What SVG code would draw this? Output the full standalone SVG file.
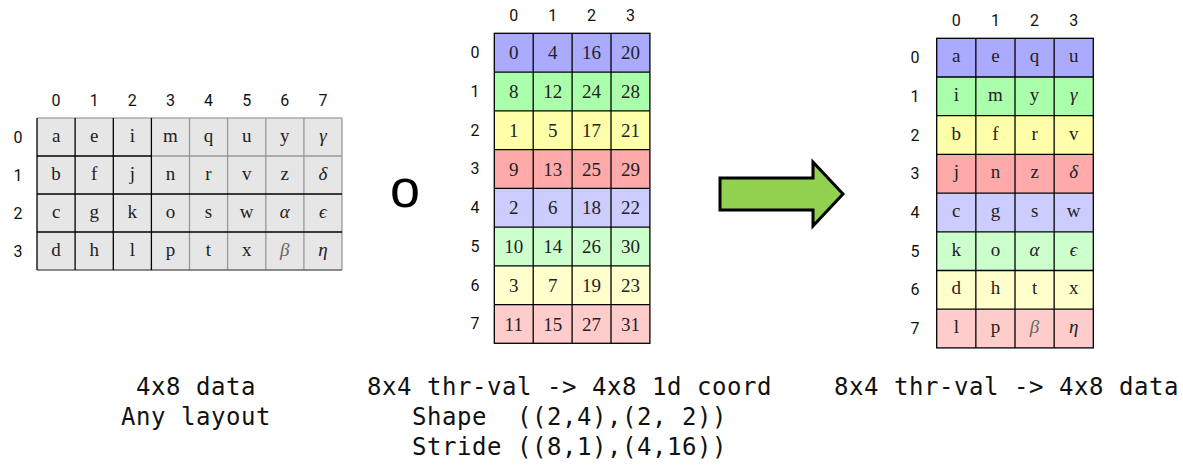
<svg xmlns="http://www.w3.org/2000/svg" width="1183" height="469" viewBox="0 0 1183 469">
<style>
.bg{fill:#ffffff}
.lab{font-family:Roboto,"DejaVu Sans",sans-serif;font-size:16px;fill:#111;text-anchor:middle}
.cell{font-family:"Liberation Serif","DejaVu Serif",serif;font-size:19px;fill:#222;text-anchor:middle}
.gk{font-style:italic}
.mono{font-family:"DejaVu Sans Mono","Liberation Mono",monospace;font-size:24px;letter-spacing:0.55px;fill:#111}
.ln{stroke:#000;stroke-width:1.3;fill:none}
.gl{stroke:#999;stroke-width:1.3;fill:none}
.b0{fill:#aaaaff}.g0{fill:#aaffaa}.y0{fill:#ffffaa}.r0{fill:#ffaaaa}
.b1{fill:#ccccff}.g1{fill:#ccffcc}.y1{fill:#ffffcc}.r1{fill:#ffcccc}
</style>
<rect class="bg" x="0" y="0" width="1183" height="469"/>

<!-- Left table: 4x8 data -->
<g id="data-4x8">
  <rect x="37" y="118" width="305" height="152" fill="#e6e6e6"/>
  <g class="gl">
    <line x1="37" y1="118" x2="342" y2="118" stroke="#aaa"/>
    <line x1="151.4" y1="156" x2="342" y2="156"/>
    <line x1="189.5" y1="118" x2="189.5" y2="270"/>
    <line x1="227.6" y1="118" x2="227.6" y2="270"/>
    <line x1="265.8" y1="118" x2="265.8" y2="270"/>
    <line x1="303.9" y1="118" x2="303.9" y2="270"/>
    <line x1="342" y1="118" x2="342" y2="270"/>
    <line x1="37" y1="270" x2="342" y2="270" stroke="#666"/>
  </g>
  <g class="ln">
    <line x1="37" y1="118" x2="37" y2="270"/>
    <line x1="75.1" y1="118" x2="75.1" y2="270"/>
    <line x1="113.3" y1="118" x2="113.3" y2="270"/>
    <line x1="151.4" y1="118" x2="151.4" y2="270"/>
    <line x1="37" y1="156" x2="151.4" y2="156"/>
    <line x1="37" y1="194" x2="342" y2="194"/>
    <line x1="37" y1="232" x2="342" y2="232"/>
  </g>
  <g class="lab">
    <text x="56.1" y="105.5">0</text><text x="94.2" y="105.5">1</text><text x="132.3" y="105.5">2</text><text x="170.4" y="105.5">3</text>
    <text x="208.5" y="105.5">4</text><text x="246.7" y="105.5">5</text><text x="284.8" y="105.5">6</text><text x="322.9" y="105.5">7</text>
    <text x="18" y="142.5">0</text><text x="18" y="180.5">1</text><text x="18" y="218.5">2</text><text x="18" y="256.5">3</text>
  </g>
  <g class="cell">
    <text x="56.1" y="141.5">a</text><text x="94.2" y="141.5">e</text><text x="132.3" y="141.5">i</text><text x="170.4" y="141.5">m</text>
    <text x="208.5" y="141.5">q</text><text x="246.7" y="141.5">u</text><text x="284.8" y="141.5">y</text><text class="gk" x="322.9" y="141.5">γ</text>
    <text x="56.1" y="179.5">b</text><text x="94.2" y="179.5">f</text><text x="132.3" y="179.5">j</text><text x="170.4" y="179.5">n</text>
    <text x="208.5" y="179.5">r</text><text x="246.7" y="179.5">v</text><text x="284.8" y="179.5">z</text><text class="gk" x="322.9" y="179.5">δ</text>
    <text x="56.1" y="217.5">c</text><text x="94.2" y="217.5">g</text><text x="132.3" y="217.5">k</text><text x="170.4" y="217.5">o</text>
    <text x="208.5" y="217.5">s</text><text x="246.7" y="217.5">w</text><text class="gk" x="284.8" y="217.5">α</text><text class="gk" x="322.9" y="217.5">ϵ</text>
    <text x="56.1" y="255.5">d</text><text x="94.2" y="255.5">h</text><text x="132.3" y="255.5">l</text><text x="170.4" y="255.5">p</text>
    <text x="208.5" y="255.5">t</text><text x="246.7" y="255.5">x</text><text class="gk" x="284.8" y="255.5" fill="#666">β</text><text class="gk" x="322.9" y="255.5">η</text>
  </g>
</g>

<!-- Composition operator -->
<g id="compose">
  <text x="405" y="207" font-family="'Liberation Sans','DejaVu Sans',sans-serif" font-size="54" text-anchor="middle" fill="#000">o</text>
</g>

<!-- Middle table: thr-val -> 1d coord -->
<g id="tv-coord">
  <g>
    <rect class="b0" x="494.3" y="33.3" width="155.6" height="38.75"/>
    <rect class="g0" x="494.3" y="72.05" width="155.6" height="38.75"/>
    <rect class="y0" x="494.3" y="110.8" width="155.6" height="38.75"/>
    <rect class="r0" x="494.3" y="149.55" width="155.6" height="38.75"/>
    <rect class="b1" x="494.3" y="188.3" width="155.6" height="38.75"/>
    <rect class="g1" x="494.3" y="227.05" width="155.6" height="38.75"/>
    <rect class="y1" x="494.3" y="265.8" width="155.6" height="38.75"/>
    <rect class="r1" x="494.3" y="304.55" width="155.6" height="38.75"/>
  </g>
  <g class="ln">
    <rect x="494.3" y="33.3" width="155.6" height="310"/>
    <line x1="533.2" y1="33.3" x2="533.2" y2="343.3"/>
    <line x1="572.1" y1="33.3" x2="572.1" y2="343.3"/>
    <line x1="611" y1="33.3" x2="611" y2="343.3"/>
    <line x1="494.3" y1="72.05" x2="649.9" y2="72.05"/>
    <line x1="494.3" y1="110.8" x2="649.9" y2="110.8"/>
    <line x1="494.3" y1="149.55" x2="649.9" y2="149.55"/>
    <line x1="494.3" y1="188.3" x2="649.9" y2="188.3"/>
    <line x1="494.3" y1="227.05" x2="649.9" y2="227.05"/>
    <line x1="494.3" y1="265.8" x2="649.9" y2="265.8"/>
    <line x1="494.3" y1="304.55" x2="649.9" y2="304.55"/>
  </g>
  <g class="lab">
    <text x="513.75" y="20.5">0</text><text x="552.65" y="20.5">1</text><text x="591.55" y="20.5">2</text><text x="630.45" y="20.5">3</text>
    <text x="475" y="58.2">0</text><text x="475" y="96.9">1</text><text x="475" y="135.7">2</text><text x="475" y="174.4">3</text>
    <text x="475" y="213.2">4</text><text x="475" y="251.9">5</text><text x="475" y="290.7">6</text><text x="475" y="329.4">7</text>
  </g>
  <g class="cell">
    <text x="513.75" y="59.3">0</text><text x="552.65" y="59.3">4</text><text x="591.55" y="59.3">16</text><text x="630.45" y="59.3">20</text>
    <text x="513.75" y="98">8</text><text x="552.65" y="98">12</text><text x="591.55" y="98">24</text><text x="630.45" y="98">28</text>
    <text x="513.75" y="136.8">1</text><text x="552.65" y="136.8">5</text><text x="591.55" y="136.8">17</text><text x="630.45" y="136.8">21</text>
    <text x="513.75" y="175.5">9</text><text x="552.65" y="175.5">13</text><text x="591.55" y="175.5">25</text><text x="630.45" y="175.5">29</text>
    <text x="513.75" y="214.3">2</text><text x="552.65" y="214.3">6</text><text x="591.55" y="214.3">18</text><text x="630.45" y="214.3">22</text>
    <text x="513.75" y="253">10</text><text x="552.65" y="253">14</text><text x="591.55" y="253">26</text><text x="630.45" y="253">30</text>
    <text x="513.75" y="291.8">3</text><text x="552.65" y="291.8">7</text><text x="591.55" y="291.8">19</text><text x="630.45" y="291.8">23</text>
    <text x="513.75" y="330.5">11</text><text x="552.65" y="330.5">15</text><text x="591.55" y="330.5">27</text><text x="630.45" y="330.5">31</text>
  </g>
</g>

<!-- Connector: big arrow -->
<g id="connectors">
  <polygon points="720,178 813,178 813,162 843,194 813,226 813,210 720,210" fill="#92d050" stroke="#000" stroke-width="3" stroke-linejoin="miter"/>
</g>

<!-- Right table: thr-val -> data -->
<g id="tv-data">
  <g>
    <rect class="b0" x="936.7" y="38.3" width="156.6" height="38.7"/>
    <rect class="g0" x="936.7" y="77" width="156.6" height="38.7"/>
    <rect class="y0" x="936.7" y="115.7" width="156.6" height="38.7"/>
    <rect class="r0" x="936.7" y="154.4" width="156.6" height="38.7"/>
    <rect class="b1" x="936.7" y="193.1" width="156.6" height="38.7"/>
    <rect class="g1" x="936.7" y="231.8" width="156.6" height="38.7"/>
    <rect class="y1" x="936.7" y="270.5" width="156.6" height="38.7"/>
    <rect class="r1" x="936.7" y="309.2" width="156.6" height="38.7"/>
  </g>
  <g class="ln">
    <rect x="936.7" y="38.3" width="156.6" height="309.6"/>
    <line x1="975.85" y1="38.3" x2="975.85" y2="347.9"/>
    <line x1="1015" y1="38.3" x2="1015" y2="347.9"/>
    <line x1="1054.15" y1="38.3" x2="1054.15" y2="347.9"/>
    <line x1="936.7" y1="77" x2="1093.3" y2="77"/>
    <line x1="936.7" y1="115.7" x2="1093.3" y2="115.7"/>
    <line x1="936.7" y1="154.4" x2="1093.3" y2="154.4"/>
    <line x1="936.7" y1="193.1" x2="1093.3" y2="193.1"/>
    <line x1="936.7" y1="231.8" x2="1093.3" y2="231.8"/>
    <line x1="936.7" y1="270.5" x2="1093.3" y2="270.5"/>
    <line x1="936.7" y1="309.2" x2="1093.3" y2="309.2"/>
  </g>
  <g class="lab">
    <text x="956.3" y="25.5">0</text><text x="995.4" y="25.5">1</text><text x="1034.6" y="25.5">2</text><text x="1073.7" y="25.5">3</text>
    <text x="915" y="63.1">0</text><text x="915" y="101.8">1</text><text x="915" y="140.5">2</text><text x="915" y="179.2">3</text>
    <text x="915" y="217.9">4</text><text x="915" y="256.6">5</text><text x="915" y="295.3">6</text><text x="915" y="334">7</text>
  </g>
  <g class="cell">
    <text x="956.3" y="62.2">a</text><text x="995.4" y="62.2">e</text><text x="1034.6" y="62.2">q</text><text x="1073.7" y="62.2">u</text>
    <text x="956.3" y="100.9">i</text><text x="995.4" y="100.9">m</text><text x="1034.6" y="100.9">y</text><text class="gk" x="1073.7" y="100.9">γ</text>
    <text x="956.3" y="139.6">b</text><text x="995.4" y="139.6">f</text><text x="1034.6" y="139.6">r</text><text x="1073.7" y="139.6">v</text>
    <text x="956.3" y="178.3">j</text><text x="995.4" y="178.3">n</text><text x="1034.6" y="178.3">z</text><text class="gk" x="1073.7" y="178.3">δ</text>
    <text x="956.3" y="217">c</text><text x="995.4" y="217">g</text><text x="1034.6" y="217">s</text><text x="1073.7" y="217">w</text>
    <text x="956.3" y="255.7">k</text><text x="995.4" y="255.7">o</text><text class="gk" x="1034.6" y="255.7">α</text><text class="gk" x="1073.7" y="255.7">ϵ</text>
    <text x="956.3" y="294.4">d</text><text x="995.4" y="294.4">h</text><text x="1034.6" y="294.4">t</text><text x="1073.7" y="294.4">x</text>
    <text x="956.3" y="333.1">l</text><text x="995.4" y="333.1">p</text><text class="gk" x="1034.6" y="333.1" fill="#666">β</text><text class="gk" x="1073.7" y="333.1">η</text>
  </g>
</g>

<!-- Captions -->
<g id="captions" class="mono">
  <text x="136" y="395">4x8 data</text>
  <text x="121" y="425">Any layout</text>
  <text x="367" y="395">8x4 thr-val -&gt; 4x8 1d coord</text>
  <text x="412" y="425" xml:space="preserve">Shape&#160; ((2,4),(2, 2))</text>
  <text x="412" y="455">Stride ((8,1),(4,16))</text>
  <text x="834" y="395">8x4 thr-val -&gt; 4x8 data</text>
</g>
</svg>
